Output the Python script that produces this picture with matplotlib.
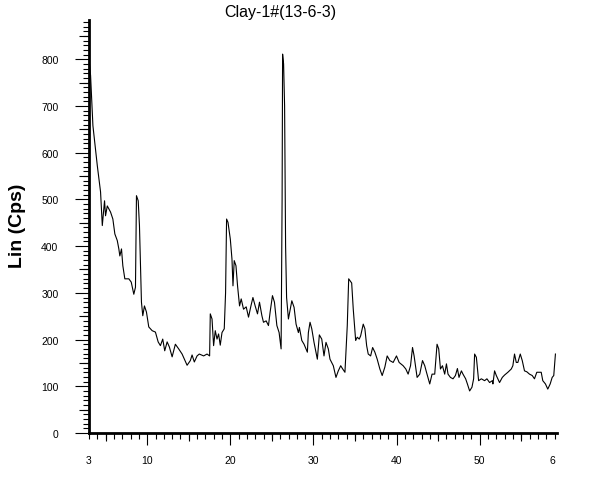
import numpy as np
import matplotlib
matplotlib.use('Agg')
import matplotlib.pyplot as plt

plt.rcParams['font.family'] = ['Liberation Sans', 'DejaVu Sans']

# 2-theta (deg) and intensity (cps)
two_theta = [3.00, 3.19, 3.47, 4.00, 4.39, 4.60, 4.87, 4.99, 5.20, 5.59, 5.87, 6.11,
             6.40, 6.59, 6.71, 6.91, 7.07, 7.31, 7.79, 8.08, 8.39, 8.59, 8.71, 8.92,
             9.07, 9.31, 9.47, 9.67, 9.91, 10.19, 10.60, 10.99, 11.32, 11.59, 11.87,
             12.11, 12.40, 12.67, 13.00, 13.39, 13.79, 14.20, 14.47, 14.80, 15.19,
             15.40, 15.67, 16.00, 16.27, 16.79, 17.20, 17.51, 17.59, 17.80, 17.99,
             18.19, 18.40, 18.59, 18.79, 19.00, 19.27, 19.43, 19.55, 19.72, 20.00,
             20.20, 20.32, 20.47, 20.68, 20.87, 21.11, 21.31, 21.59, 21.91, 22.19,
             22.48, 22.72, 22.99, 23.27, 23.51, 23.80, 23.99, 24.31, 24.59, 24.79,
             25.07, 25.31, 25.60, 25.87, 26.11, 26.23, 26.29, 26.41, 26.53, 26.65,
             26.77, 26.99, 27.40, 27.67, 27.91, 28.19, 28.31, 28.60, 28.87, 29.27,
             29.39, 29.59, 29.80, 30.07, 30.47, 30.71, 31.00, 31.27, 31.51, 31.79,
             31.99, 32.39, 32.71, 32.99, 33.28, 33.52, 33.79, 34.07, 34.24, 34.60,
             34.79, 35.08, 35.27, 35.51, 35.68, 35.99, 36.19, 36.40, 36.59, 36.88,
             37.12, 37.39, 37.67, 37.99, 38.27, 38.59, 38.87, 39.19, 39.59, 39.99,
             40.31, 40.79, 41.11, 41.39, 41.68, 41.92, 42.11, 42.47, 42.79, 43.12,
             43.39, 43.60, 43.99, 44.27, 44.59, 44.87, 45.07, 45.28, 45.52, 45.79,
             46.00, 46.19, 46.48, 46.79, 47.08, 47.32, 47.51, 47.80, 47.99, 48.31,
             48.52, 48.79, 49.07, 49.27, 49.39, 49.60, 49.87, 50.20, 50.59, 50.87,
             51.19, 51.52, 51.59, 51.79, 52.00, 52.39, 52.72, 52.99, 53.39, 53.80,
             53.99, 54.19, 54.40, 54.59, 54.88, 55.12, 55.39, 55.67, 55.99, 56.32,
             56.59, 56.87, 57.40, 57.59, 57.91, 58.19, 58.48, 58.72, 58.91, 59.11]
counts = [800, 765, 658, 572, 516, 444, 497, 465, 486, 473, 458, 426,
          412, 394, 379, 394, 358, 330, 330, 323, 297, 312, 508, 497,
          444, 280, 251, 272, 259, 227, 219, 216, 195, 187, 201,
          176, 195, 184, 163, 190, 180, 169, 158, 145, 155,
          167, 152, 165, 169, 165, 169, 165, 255, 244, 187,
          219, 201, 212, 188, 215, 223, 300, 458, 451, 415,
          372, 315, 369, 358, 315, 272, 287, 265, 270, 248,
          272, 290, 272, 255, 280, 251, 237, 240, 230, 259,
          294, 280, 230, 215, 180, 500, 811, 790, 700, 400,
          290, 244, 283, 269, 233, 215, 226, 198, 190, 173,
          215, 237, 223, 194, 158, 210, 201, 165, 194, 180,
          158, 144, 119, 133, 144, 137, 130, 230, 330, 321,
          265, 198, 205, 201, 208, 233, 223, 187, 169, 165,
          183, 173, 158, 137, 123, 141, 165, 155, 151, 165,
          151, 144, 137, 126, 144, 183, 165, 119, 126, 155,
          144, 130, 105, 126, 126, 190, 180, 137, 144, 126,
          148, 126, 119, 116, 123, 138, 119, 133, 126, 116,
          105, 90, 98, 116, 169, 162, 112, 116, 112, 116,
          108, 112, 105, 133, 123, 108, 119, 124, 130, 137,
          144, 169, 151, 151, 169, 155, 133, 131, 126, 123,
          116, 130, 130, 112, 105, 94, 105, 119, 123, 169]

x_labels = ['3', '10', '20', '30', '40', '50', '6']
x_label_pos = [3, 10, 20, 30, 40, 50, 58.7]
y_major = list(range(0, 900, 100))

fig = plt.figure(figsize=(5.89, 4.85), dpi=100)
ax = fig.add_axes([89/589, 51/485, 468/589, 413/485])
ax.plot(two_theta, counts, color='black', lw=0.8)
ax.set_xlim(3, 59.3)
ax.set_ylim(0, 884)

for s in ['top', 'right']:
    ax.spines[s].set_visible(False)
for s in ['left', 'bottom']:
    ax.spines[s].set_linewidth(2.0)

# x ticks
ax.set_xticks(x_label_pos)
ax.set_xticklabels(x_labels)
ax.set_xticks(np.arange(3, 60, 1), minor=True)
ax.tick_params(axis='x', which='major', length=8.5, width=0.8, pad=7, labelsize=7.5)
ax.tick_params(axis='x', which='minor', length=4, width=0.8)
xt = ax.xaxis.get_major_ticks()
xt[0].tick1line.set_markersize(4)
xt[-1].tick1line.set_markersize(0)
secx = ax.secondary_xaxis('bottom')
secx.set_xticks(np.arange(5, 60, 10))
secx.tick_params(length=6, width=0.8, labelbottom=False)
secx.spines['bottom'].set_visible(False)

# y ticks
ax.set_yticks(y_major)
ax.set_yticks(np.arange(0, 881, 10), minor=True)
ax.tick_params(axis='y', which='major', length=10, width=0.8, pad=12, labelsize=7.5)
ax.tick_params(axis='y', which='minor', length=4.5, width=0.8)
secy = ax.secondary_yaxis('left')
secy.set_yticks(np.arange(50, 900, 100))
secy.tick_params(length=7, width=0.8, labelleft=False)
secy.spines['left'].set_visible(False)

fig.text(280/589, 1 - 12/485, 'Clay-1#(13-6-3)', ha='center', va='center', fontsize=11.5)
fig.text(17/589, 1 - 226/485, 'Lin (Cps)', ha='center', va='center', rotation=90,
         fontsize=14, fontweight='bold')

fig.savefig('out.png', dpi=100)
